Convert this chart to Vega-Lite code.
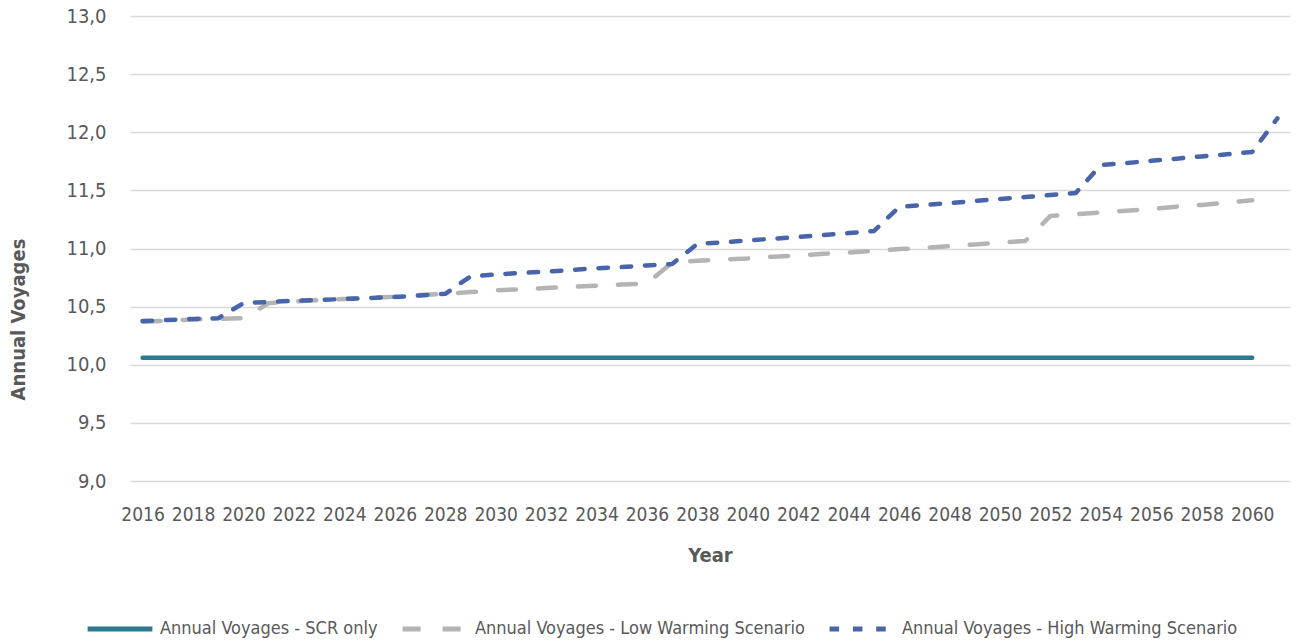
{
  "$schema": "https://vega.github.io/schema/vega-lite/v6.json",
  "width": 1160,
  "height": 465,
  "autosize": {"type": "none"},
  "padding": {"left": 130, "top": 16, "right": 7, "bottom": 163},
  "background": "white",
  "config": {
    "view": {"stroke": null},
    "font": "DejaVu Sans Condensed",
    "axis": {"labelFont": "DejaVu Sans Condensed", "titleFont": "DejaVu Sans Condensed", "labelColor": "#595959", "titleColor": "#595959"},
    "legend": {"labelFont": "DejaVu Sans Condensed"}
  },
  "data": {"values": [
    {"year": 2016, "series": "Annual Voyages - SCR only", "v": 10.06},
    {"year": 2017, "series": "Annual Voyages - SCR only", "v": 10.06},
    {"year": 2018, "series": "Annual Voyages - SCR only", "v": 10.06},
    {"year": 2019, "series": "Annual Voyages - SCR only", "v": 10.06},
    {"year": 2020, "series": "Annual Voyages - SCR only", "v": 10.06},
    {"year": 2021, "series": "Annual Voyages - SCR only", "v": 10.06},
    {"year": 2022, "series": "Annual Voyages - SCR only", "v": 10.06},
    {"year": 2023, "series": "Annual Voyages - SCR only", "v": 10.06},
    {"year": 2024, "series": "Annual Voyages - SCR only", "v": 10.06},
    {"year": 2025, "series": "Annual Voyages - SCR only", "v": 10.06},
    {"year": 2026, "series": "Annual Voyages - SCR only", "v": 10.06},
    {"year": 2027, "series": "Annual Voyages - SCR only", "v": 10.06},
    {"year": 2028, "series": "Annual Voyages - SCR only", "v": 10.06},
    {"year": 2029, "series": "Annual Voyages - SCR only", "v": 10.06},
    {"year": 2030, "series": "Annual Voyages - SCR only", "v": 10.06},
    {"year": 2031, "series": "Annual Voyages - SCR only", "v": 10.06},
    {"year": 2032, "series": "Annual Voyages - SCR only", "v": 10.06},
    {"year": 2033, "series": "Annual Voyages - SCR only", "v": 10.06},
    {"year": 2034, "series": "Annual Voyages - SCR only", "v": 10.06},
    {"year": 2035, "series": "Annual Voyages - SCR only", "v": 10.06},
    {"year": 2036, "series": "Annual Voyages - SCR only", "v": 10.06},
    {"year": 2037, "series": "Annual Voyages - SCR only", "v": 10.06},
    {"year": 2038, "series": "Annual Voyages - SCR only", "v": 10.06},
    {"year": 2039, "series": "Annual Voyages - SCR only", "v": 10.06},
    {"year": 2040, "series": "Annual Voyages - SCR only", "v": 10.06},
    {"year": 2041, "series": "Annual Voyages - SCR only", "v": 10.06},
    {"year": 2042, "series": "Annual Voyages - SCR only", "v": 10.06},
    {"year": 2043, "series": "Annual Voyages - SCR only", "v": 10.06},
    {"year": 2044, "series": "Annual Voyages - SCR only", "v": 10.06},
    {"year": 2045, "series": "Annual Voyages - SCR only", "v": 10.06},
    {"year": 2046, "series": "Annual Voyages - SCR only", "v": 10.06},
    {"year": 2047, "series": "Annual Voyages - SCR only", "v": 10.06},
    {"year": 2048, "series": "Annual Voyages - SCR only", "v": 10.06},
    {"year": 2049, "series": "Annual Voyages - SCR only", "v": 10.06},
    {"year": 2050, "series": "Annual Voyages - SCR only", "v": 10.06},
    {"year": 2051, "series": "Annual Voyages - SCR only", "v": 10.06},
    {"year": 2052, "series": "Annual Voyages - SCR only", "v": 10.06},
    {"year": 2053, "series": "Annual Voyages - SCR only", "v": 10.06},
    {"year": 2054, "series": "Annual Voyages - SCR only", "v": 10.06},
    {"year": 2055, "series": "Annual Voyages - SCR only", "v": 10.06},
    {"year": 2056, "series": "Annual Voyages - SCR only", "v": 10.06},
    {"year": 2057, "series": "Annual Voyages - SCR only", "v": 10.06},
    {"year": 2058, "series": "Annual Voyages - SCR only", "v": 10.06},
    {"year": 2059, "series": "Annual Voyages - SCR only", "v": 10.06},
    {"year": 2060, "series": "Annual Voyages - SCR only", "v": 10.06},
    {"year": 2016, "series": "Annual Voyages - Low Warming Scenario", "v": 10.37},
    {"year": 2017, "series": "Annual Voyages - Low Warming Scenario", "v": 10.38},
    {"year": 2018, "series": "Annual Voyages - Low Warming Scenario", "v": 10.39},
    {"year": 2019, "series": "Annual Voyages - Low Warming Scenario", "v": 10.395},
    {"year": 2020, "series": "Annual Voyages - Low Warming Scenario", "v": 10.40},
    {"year": 2021, "series": "Annual Voyages - Low Warming Scenario", "v": 10.53},
    {"year": 2022, "series": "Annual Voyages - Low Warming Scenario", "v": 10.545},
    {"year": 2023, "series": "Annual Voyages - Low Warming Scenario", "v": 10.555},
    {"year": 2024, "series": "Annual Voyages - Low Warming Scenario", "v": 10.565},
    {"year": 2025, "series": "Annual Voyages - Low Warming Scenario", "v": 10.575},
    {"year": 2026, "series": "Annual Voyages - Low Warming Scenario", "v": 10.585},
    {"year": 2027, "series": "Annual Voyages - Low Warming Scenario", "v": 10.60},
    {"year": 2028, "series": "Annual Voyages - Low Warming Scenario", "v": 10.61},
    {"year": 2029, "series": "Annual Voyages - Low Warming Scenario", "v": 10.625},
    {"year": 2030, "series": "Annual Voyages - Low Warming Scenario", "v": 10.64},
    {"year": 2031, "series": "Annual Voyages - Low Warming Scenario", "v": 10.65},
    {"year": 2032, "series": "Annual Voyages - Low Warming Scenario", "v": 10.66},
    {"year": 2033, "series": "Annual Voyages - Low Warming Scenario", "v": 10.67},
    {"year": 2034, "series": "Annual Voyages - Low Warming Scenario", "v": 10.68},
    {"year": 2035, "series": "Annual Voyages - Low Warming Scenario", "v": 10.69},
    {"year": 2036, "series": "Annual Voyages - Low Warming Scenario", "v": 10.70},
    {"year": 2037, "series": "Annual Voyages - Low Warming Scenario", "v": 10.88},
    {"year": 2038, "series": "Annual Voyages - Low Warming Scenario", "v": 10.895},
    {"year": 2039, "series": "Annual Voyages - Low Warming Scenario", "v": 10.905},
    {"year": 2040, "series": "Annual Voyages - Low Warming Scenario", "v": 10.915},
    {"year": 2041, "series": "Annual Voyages - Low Warming Scenario", "v": 10.93},
    {"year": 2042, "series": "Annual Voyages - Low Warming Scenario", "v": 10.94},
    {"year": 2043, "series": "Annual Voyages - Low Warming Scenario", "v": 10.955},
    {"year": 2044, "series": "Annual Voyages - Low Warming Scenario", "v": 10.965},
    {"year": 2045, "series": "Annual Voyages - Low Warming Scenario", "v": 10.98},
    {"year": 2046, "series": "Annual Voyages - Low Warming Scenario", "v": 10.995},
    {"year": 2047, "series": "Annual Voyages - Low Warming Scenario", "v": 11.005},
    {"year": 2048, "series": "Annual Voyages - Low Warming Scenario", "v": 11.02},
    {"year": 2049, "series": "Annual Voyages - Low Warming Scenario", "v": 11.035},
    {"year": 2050, "series": "Annual Voyages - Low Warming Scenario", "v": 11.05},
    {"year": 2051, "series": "Annual Voyages - Low Warming Scenario", "v": 11.065},
    {"year": 2052, "series": "Annual Voyages - Low Warming Scenario", "v": 11.28},
    {"year": 2053, "series": "Annual Voyages - Low Warming Scenario", "v": 11.295},
    {"year": 2054, "series": "Annual Voyages - Low Warming Scenario", "v": 11.31},
    {"year": 2055, "series": "Annual Voyages - Low Warming Scenario", "v": 11.325},
    {"year": 2056, "series": "Annual Voyages - Low Warming Scenario", "v": 11.34},
    {"year": 2057, "series": "Annual Voyages - Low Warming Scenario", "v": 11.36},
    {"year": 2058, "series": "Annual Voyages - Low Warming Scenario", "v": 11.375},
    {"year": 2059, "series": "Annual Voyages - Low Warming Scenario", "v": 11.395},
    {"year": 2060, "series": "Annual Voyages - Low Warming Scenario", "v": 11.415},
    {"year": 2016, "series": "Annual Voyages - High Warming Scenario", "v": 10.376},
    {"year": 2017, "series": "Annual Voyages - High Warming Scenario", "v": 10.385},
    {"year": 2018, "series": "Annual Voyages - High Warming Scenario", "v": 10.394},
    {"year": 2019, "series": "Annual Voyages - High Warming Scenario", "v": 10.40},
    {"year": 2020, "series": "Annual Voyages - High Warming Scenario", "v": 10.53},
    {"year": 2021, "series": "Annual Voyages - High Warming Scenario", "v": 10.54},
    {"year": 2022, "series": "Annual Voyages - High Warming Scenario", "v": 10.55},
    {"year": 2023, "series": "Annual Voyages - High Warming Scenario", "v": 10.557},
    {"year": 2024, "series": "Annual Voyages - High Warming Scenario", "v": 10.566},
    {"year": 2025, "series": "Annual Voyages - High Warming Scenario", "v": 10.574},
    {"year": 2026, "series": "Annual Voyages - High Warming Scenario", "v": 10.583},
    {"year": 2027, "series": "Annual Voyages - High Warming Scenario", "v": 10.596},
    {"year": 2028, "series": "Annual Voyages - High Warming Scenario", "v": 10.61},
    {"year": 2029, "series": "Annual Voyages - High Warming Scenario", "v": 10.76},
    {"year": 2030, "series": "Annual Voyages - High Warming Scenario", "v": 10.776},
    {"year": 2031, "series": "Annual Voyages - High Warming Scenario", "v": 10.79},
    {"year": 2032, "series": "Annual Voyages - High Warming Scenario", "v": 10.80},
    {"year": 2033, "series": "Annual Voyages - High Warming Scenario", "v": 10.815},
    {"year": 2034, "series": "Annual Voyages - High Warming Scenario", "v": 10.83},
    {"year": 2035, "series": "Annual Voyages - High Warming Scenario", "v": 10.84},
    {"year": 2036, "series": "Annual Voyages - High Warming Scenario", "v": 10.854},
    {"year": 2037, "series": "Annual Voyages - High Warming Scenario", "v": 10.867},
    {"year": 2038, "series": "Annual Voyages - High Warming Scenario", "v": 11.04},
    {"year": 2039, "series": "Annual Voyages - High Warming Scenario", "v": 11.053},
    {"year": 2040, "series": "Annual Voyages - High Warming Scenario", "v": 11.069},
    {"year": 2041, "series": "Annual Voyages - High Warming Scenario", "v": 11.084},
    {"year": 2042, "series": "Annual Voyages - High Warming Scenario", "v": 11.099},
    {"year": 2043, "series": "Annual Voyages - High Warming Scenario", "v": 11.116},
    {"year": 2044, "series": "Annual Voyages - High Warming Scenario", "v": 11.133},
    {"year": 2045, "series": "Annual Voyages - High Warming Scenario", "v": 11.15},
    {"year": 2046, "series": "Annual Voyages - High Warming Scenario", "v": 11.357},
    {"year": 2047, "series": "Annual Voyages - High Warming Scenario", "v": 11.374},
    {"year": 2048, "series": "Annual Voyages - High Warming Scenario", "v": 11.391},
    {"year": 2049, "series": "Annual Voyages - High Warming Scenario", "v": 11.409},
    {"year": 2050, "series": "Annual Voyages - High Warming Scenario", "v": 11.426},
    {"year": 2051, "series": "Annual Voyages - High Warming Scenario", "v": 11.443},
    {"year": 2052, "series": "Annual Voyages - High Warming Scenario", "v": 11.46},
    {"year": 2053, "series": "Annual Voyages - High Warming Scenario", "v": 11.477},
    {"year": 2054, "series": "Annual Voyages - High Warming Scenario", "v": 11.718},
    {"year": 2055, "series": "Annual Voyages - High Warming Scenario", "v": 11.735},
    {"year": 2056, "series": "Annual Voyages - High Warming Scenario", "v": 11.754},
    {"year": 2057, "series": "Annual Voyages - High Warming Scenario", "v": 11.773},
    {"year": 2058, "series": "Annual Voyages - High Warming Scenario", "v": 11.792},
    {"year": 2059, "series": "Annual Voyages - High Warming Scenario", "v": 11.81},
    {"year": 2060, "series": "Annual Voyages - High Warming Scenario", "v": 11.83},
    {"year": 2061, "series": "Annual Voyages - High Warming Scenario", "v": 12.12}
  ]},
  "mark": {"type": "line", "strokeWidth": 4.5, "strokeCap": "round", "strokeJoin": "round"},
  "encoding": {
    "x": {
      "field": "year", "type": "quantitative",
      "scale": {"domain": [2015.5, 2061.5], "nice": false, "zero": false},
      "axis": {
        "title": "Year", "titleFontSize": 20, "titleFontWeight": "bold", "titleY": 74, "titleBaseline": "middle",
        "values": [2016, 2018, 2020, 2022, 2024, 2026, 2028, 2030, 2032, 2034, 2036, 2038, 2040, 2042, 2044, 2046, 2048, 2050, 2052, 2054, 2056, 2058, 2060],
        "format": "d", "labelFontSize": 19, "labelPadding": 24, "ticks": false, "domain": false, "grid": false, "labelFlush": false
      }
    },
    "y": {
      "field": "v", "type": "quantitative",
      "scale": {"domain": [9, 13], "nice": false, "zero": false},
      "axis": {
        "title": "Annual Voyages", "titleFontSize": 20, "titleFontWeight": "bold", "titleX": -112, "titleY": 303, "titleAlign": "center", "titleBaseline": "middle", "titleAngle": -90,
        "values": [9, 9.5, 10, 10.5, 11, 11.5, 12, 12.5, 13],
        "labelExpr": "replace(format(datum.value, '.1f'), '.', ',')",
        "labelFontSize": 20, "labelPadding": 24, "ticks": false, "domain": false,
        "grid": true, "gridColor": "#D9D9D9", "gridWidth": 1.5
      }
    },
    "color": {
      "field": "series", "type": "nominal",
      "scale": {"domain": ["Annual Voyages - SCR only", "Annual Voyages - Low Warming Scenario", "Annual Voyages - High Warming Scenario"], "range": ["#2C7A8E", "#B4B4B4", "#4864AA"]},
      "legend": {
        "title": null, "orient": "none", "direction": "horizontal", "legendX": -45, "legendY": 578,
        "symbolType": "stroke", "symbolSize": 4200, "symbolStrokeWidth": 5, "labelFontSize": 18, "labelColor": "#595959",
        "labelLimit": 500, "labelOffset": 5, "columnPadding": 14
      }
    },
    "strokeDash": {
      "field": "series", "type": "nominal",
      "scale": {"domain": ["Annual Voyages - SCR only", "Annual Voyages - Low Warming Scenario", "Annual Voyages - High Warming Scenario"], "range": [[1, 0], [18, 22], [9.5, 13.8]]},
      "legend": {
        "title": null, "orient": "none", "direction": "horizontal", "legendX": -45, "legendY": 578,
        "symbolType": "stroke", "symbolSize": 4200, "symbolStrokeWidth": 5, "labelFontSize": 18, "labelColor": "#595959",
        "labelLimit": 500, "labelOffset": 5, "columnPadding": 14
      }
    }
  }
}
